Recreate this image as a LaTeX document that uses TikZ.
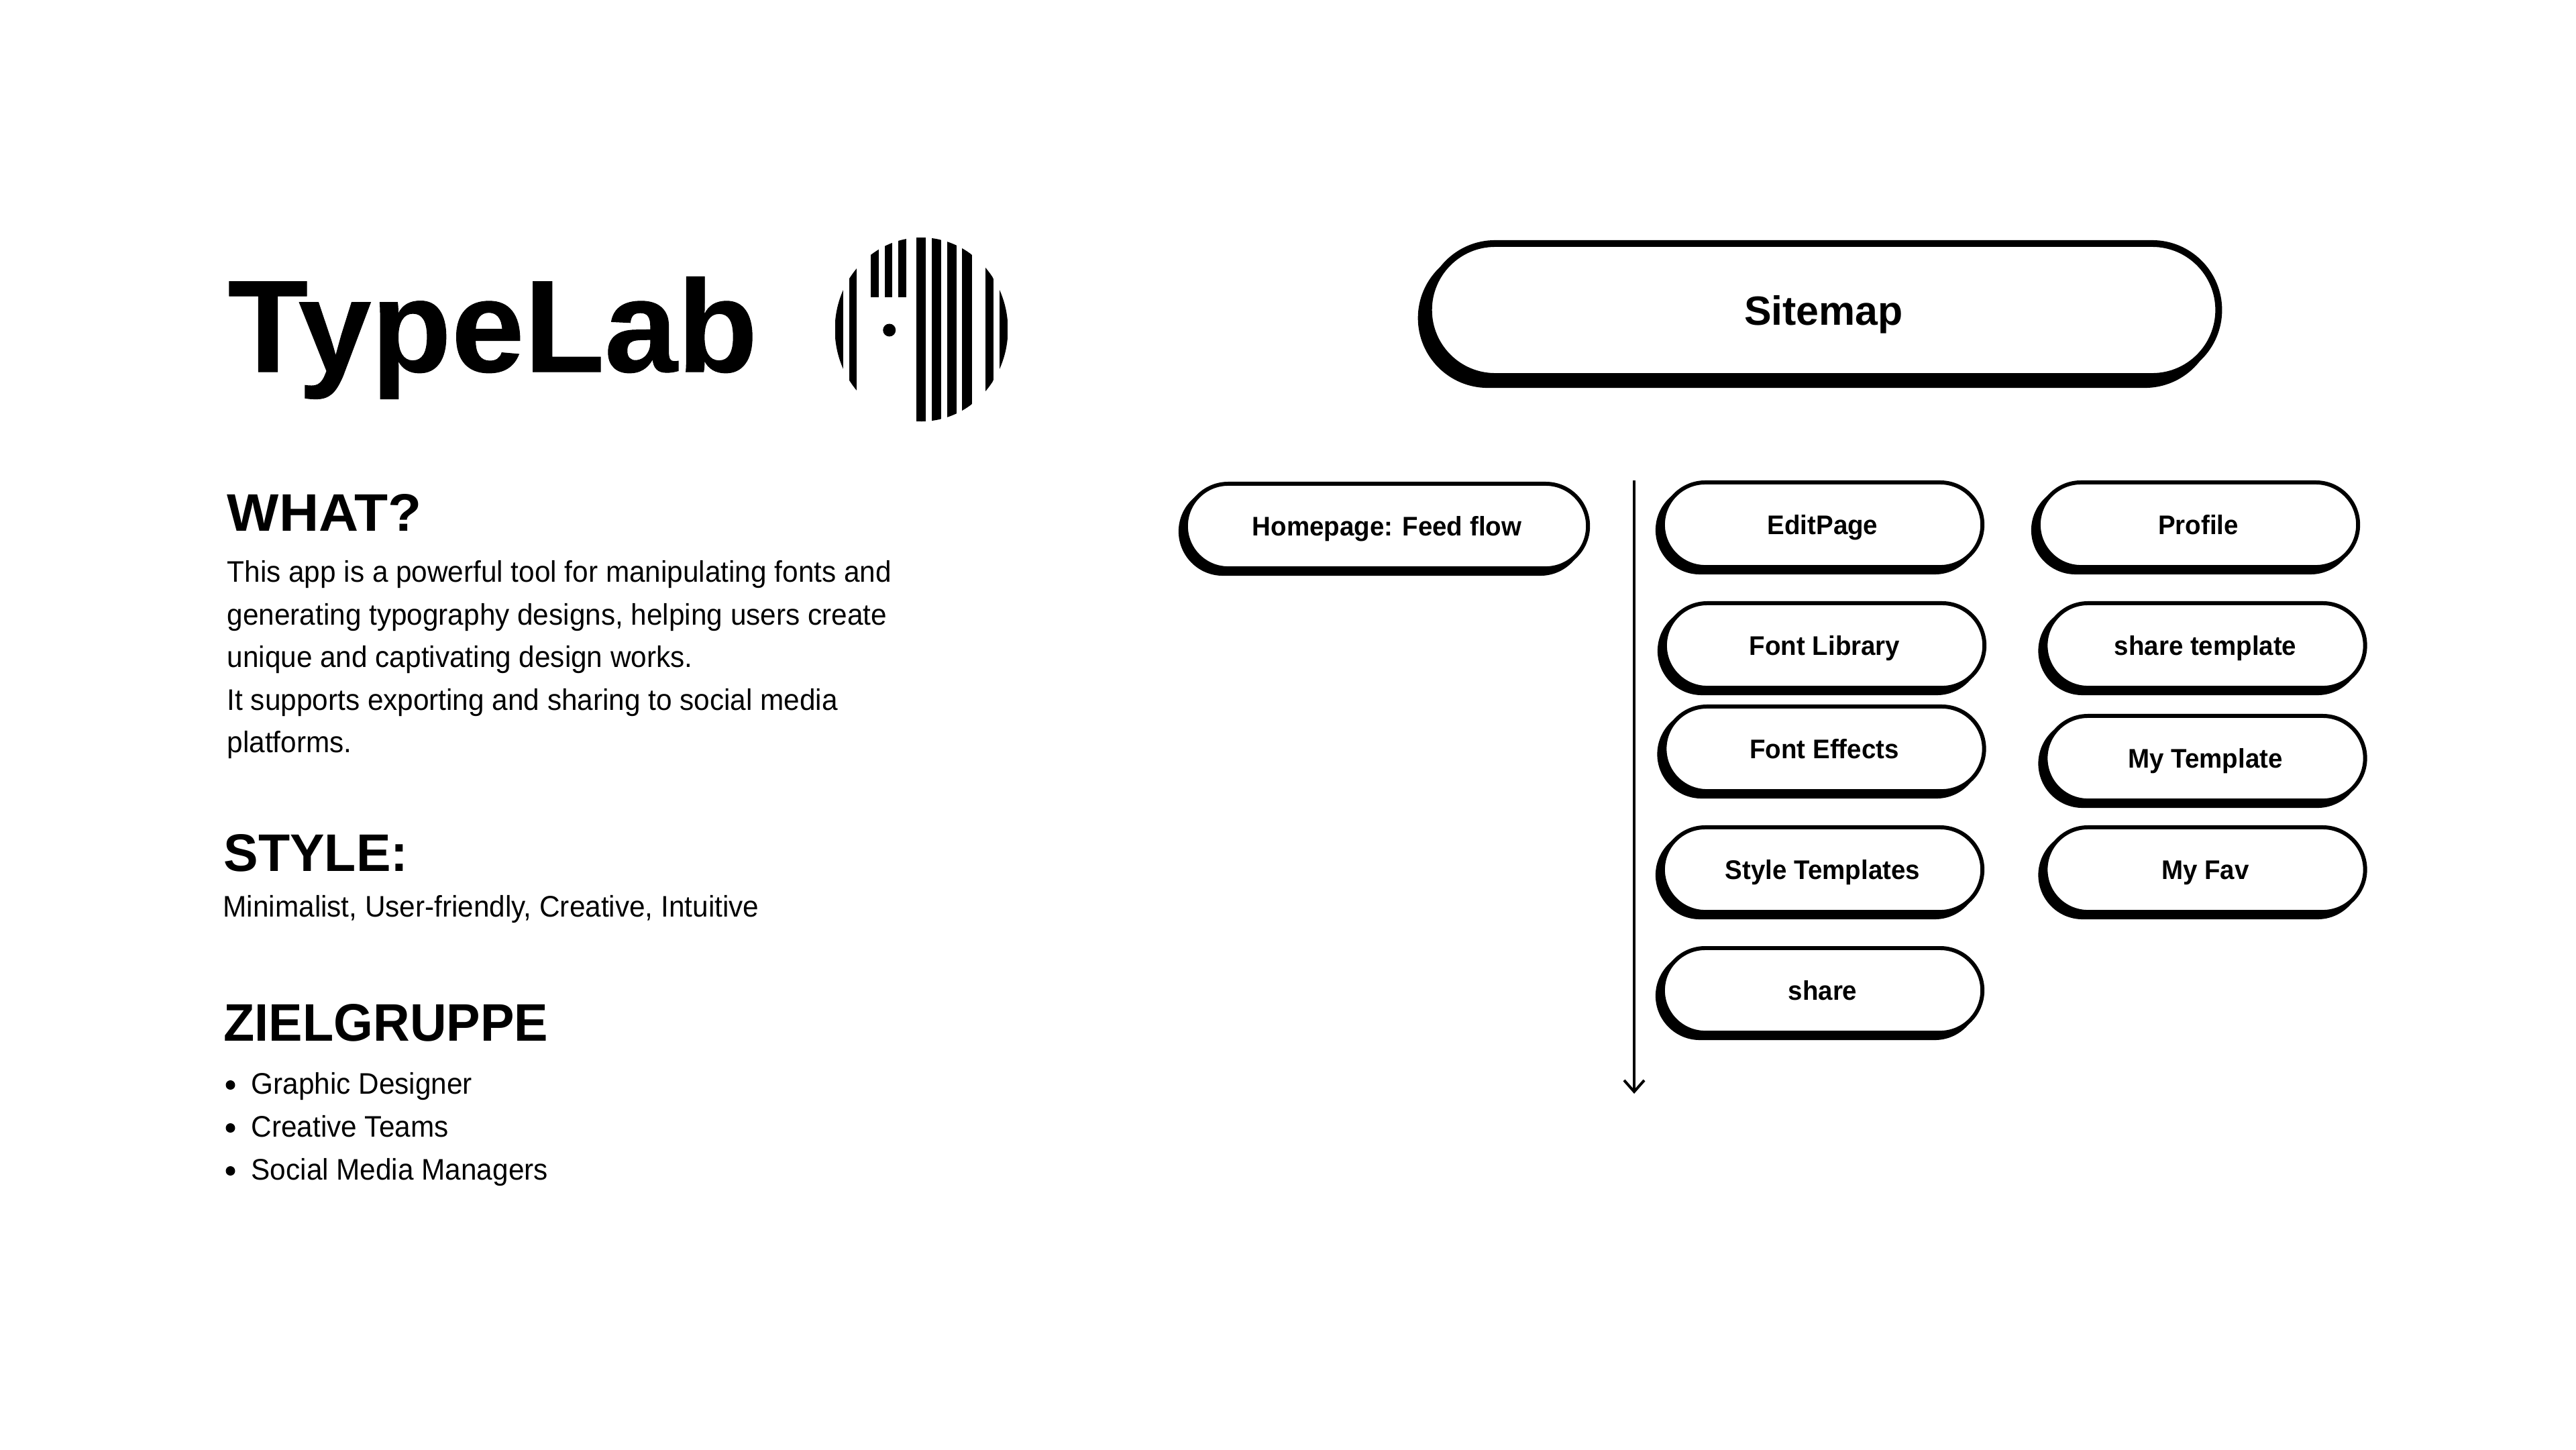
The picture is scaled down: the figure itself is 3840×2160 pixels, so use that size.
\documentclass[tikz,border=0pt]{standalone}
\usepackage{fontspec}
\setmainfont{Liberation Sans}
\usetikzlibrary{positioning,arrows.meta,shapes.misc,shadows}

\begin{document}
\begin{tikzpicture}[
  x=0.01cm, y=-0.01cm,
  pillbase/.style={rounded rectangle, draw=black, fill=white, inner sep=0pt, text depth=0pt},
  pill/.style={pillbase, line width=1.7pt, minimum width=4.76cm, minimum height=1.26cm, text height=0.28cm,
               general shadow={shadow xshift=-0.08cm, shadow yshift=-0.08cm, fill=black, draw=black, line width=1.7pt},
               font=\fontsize{11.4}{14}\selectfont\bfseries\addfontfeature{FakeStretch=0.96}},
  bigpill/.style={pillbase, line width=2.85pt, minimum width=11.77cm, minimum height=1.98cm, text height=0.44cm,
               general shadow={shadow xshift=-0.11cm, shadow yshift=-0.12cm, fill=black, draw=black, line width=2.85pt},
               font=\fontsize{17.3}{21}\selectfont\bfseries},
  head/.style={anchor=base west, inner sep=0pt,
               font=\fontsize{22.4}{27}\selectfont\bfseries\addfontfeature{FakeStretch=#1}},
  body/.style={anchor=base west, inner sep=0pt,
               font=\fontsize{12.6}{16}\selectfont\addfontfeature{FakeStretch=0.955}},
  ar/.style={-{Straight Barb[length=1.7mm,width=3mm]}, line width=1.14pt},
]
\useasboundingbox (0,0) rectangle (3840,2160);

\node[anchor=base west, inner sep=0pt, font=\fontsize{55.6}{66}\selectfont\bfseries\addfontfeature{FakeBold=0.5}] (title) at (339,554) {TypeLab};

% logo
\begin{scope}[shift={(1200,320)}]
\clip (173.5,171) circle (129 and 137);
\foreach \a/\b in {45/57, 66/77, 166/180, 189/203, 212/226, 234/249, 269/281, 290/302}
  \fill (\a,0) rectangle (\b,330);
\foreach \a/\b in {98/110, 119/130, 139/151}
  \fill (\a,0) rectangle (\b,123);
\fill (125.7,172) circle (9.5);
\end{scope}

\node[head=1.04] (what) at (338,791) {WHAT?};
\node[body] (d1) at (338,867) {This app is a powerful tool for manipulating fonts and};
\node[body] (d2) at (338,931) {generating typography designs, helping users create};
\node[body] (d3) at (338,994) {unique and captivating design works.};
\node[body] (d4) at (338,1058) {It supports exporting and sharing to social media};
\node[body] (d5) at (338,1121) {platforms.};

\node[head=0.98] (style) at (333,1298) {STYLE:};
\node[body] (s1) at (332,1366) {Minimalist, User-friendly, Creative, Intuitive};

\node[head=0.96] (ziel) at (333,1551) {ZIELGRUPPE};
\foreach \n/\y/\t in {g1/1630/Graphic Designer, g2/1694/Creative Teams, g3/1758/Social Media Managers} {
  \fill (343.5,\y-13) circle (7);
  \node[body] (\n) at (374,\y) {\t};
}

\node[bigpill] (sitemap) at (2718.5,462) {Sitemap};
\node[pill, minimum width=5.99cm] (home) at (2067.5,784) {Homepage: Feed flow};

\node[pill] (edit)  at (2717,782)  {EditPage};
\node[pill] (lib)   at (2720,962)  {Font Library};
\node[pill] (fx)    at (2719.5,1116) {Font Effects};
\node[pill] (tmpl)  at (2717,1296) {Style Templates};
\node[pill] (share) at (2717,1476) {share};

\node[pill] (prof)  at (3277,782)  {Profile};
\node[pill] (stmpl) at (3287.5,962)  {share template};
\node[pill] (mytm)  at (3287.5,1130) {My Template};
\node[pill] (fav)   at (3287.5,1296) {My Fav};

\coordinate (top) at (2436,716);
\coordinate (end) at (2436,1630);
\draw[ar] (top) -- (end);
\end{tikzpicture}
\end{document}
